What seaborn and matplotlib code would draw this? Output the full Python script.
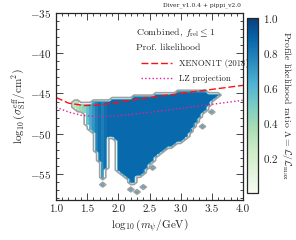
import numpy as np
import matplotlib
matplotlib.use("Agg")
import matplotlib.pyplot as plt
import matplotlib.ticker as mticker
from matplotlib.lines import Line2D
import seaborn as sns

# limit curves, log10(m/GeV) vs log10(sigma/cm^2)
xenon_x = [1.0, 1.2, 1.45, 1.7, 2.0, 2.5, 3.0, 3.5, 4.0]
xenon_y = [-45.5, -46.2, -46.5, -46.45, -46.1, -45.5, -45.0, -44.5, -44.0]
lz_x = [1.0, 1.2, 1.4, 1.6, 1.8, 2.0, 2.5, 3.0, 3.5, 4.0]
lz_y = [-46.7, -47.3, -47.7, -47.85, -47.85, -47.75, -47.35, -46.85, -46.35, -45.85]

# profile likelihood region, read column by column
col_x = [1.30, 1.35, 1.40, 1.45, 1.50, 1.55, 1.60, 1.65, 1.70, 1.75, 1.80, 1.85,
         1.90, 1.95, 2.00, 2.05, 2.10, 2.15, 2.20, 2.25, 2.30, 2.35, 2.40, 2.45,
         2.50, 2.55, 2.60, 2.65, 2.70, 2.75, 2.80, 2.85, 2.90, 2.95, 3.00, 3.05,
         3.10, 3.15, 3.20, 3.25, 3.30, 3.35, 3.40, 3.45, 3.50, 3.55, 3.60]
col_top = [-46.0, -46.0, -46.2, -46.3, -46.3, -46.3, -46.1, -46.0, -46.0, -46.1, -46.0, -45.9,
           -45.8, -45.8, -45.8, -45.7, -45.7, -45.6, -45.6, -45.5, -45.5, -45.4, -45.4, -45.3,
           -45.3, -45.3, -45.2, -45.2, -45.1, -45.1, -45.0, -45.0, -45.0, -44.9, -44.9, -44.9,
           -44.8, -44.8, -44.8, -44.8, -44.8, -44.8, -44.9, -45.0, -45.0, -45.1, -45.2]
col_bot = [-46.9, -47.1, -47.3, -47.5, -48.9, -49.7, -49.8, -52.3, -53.5, -55.6, -54.5, -50.6,
           -50.6, -50.8, -54.8, -55.0, -55.3, -55.6, -56.2, -56.2, -55.4, -55.2, -55.0, -54.3,
           -53.9, -53.4, -53.0, -52.6, -52.3, -52.0, -51.8, -51.6, -51.4, -51.2, -51.0, -50.7,
           -50.5, -50.0, -49.3, -48.6, -48.1, -47.6, -47.1, -46.6, -46.1, -45.7, -45.4]
col_lam = [0.30, 0.35, 0.40, 0.45, 0.55, 0.65, 0.72, 0.80, 0.85, 0.80, 0.85, 0.87,
           0.87, 0.87, 0.87, 0.87, 0.87, 0.87, 0.87, 0.87, 0.87, 0.87, 0.87, 0.87,
           0.87, 0.87, 0.87, 0.87, 0.87, 0.87, 0.87, 0.87, 0.87, 0.87, 0.87, 0.87,
           0.87, 0.87, 0.87, 0.87, 0.87, 0.87, 0.87, 0.87, 0.87, 0.87, 0.87]

# isolated points around the edge
isl_x = [2.20, 2.30, 2.40, 1.75, 3.35, 3.50, 2.55]
isl_y = [-57.0, -57.3, -56.7, -56.3, -49.0, -47.3, -54.3]
isl_lam = [0.7, 0.7, 0.7, 0.7, 0.7, 0.7, 0.7]

# grid
xc = np.arange(1.0, 4.001, 0.05)
yc = np.arange(-58.4, -34.9, 0.3)
lam = np.zeros((len(yc), len(xc)))
for x, t, b, l in zip(col_x, col_top, col_bot, col_lam):
    ix = np.argmin(np.abs(xc - x))
    lam[(yc >= b) & (yc <= t), ix] = l
for x, y, l in zip(isl_x, isl_y, isl_lam):
    lam[np.argmin(np.abs(yc - y)), np.argmin(np.abs(xc - x))] = l

sns.set_style("ticks")
plt.rcParams['font.family'] = 'serif'
plt.rcParams['font.serif'] = ['cmr10', 'DejaVu Serif']
plt.rcParams['mathtext.fontset'] = 'cm'
plt.rcParams['axes.formatter.use_mathtext'] = True
plt.rcParams['font.size'] = 8

fig = plt.figure(figsize=(2.96, 2.40), dpi=100)
ax = fig.add_axes([56/296, 1-200/240, 187/296, 187.3/240])
cax = fig.add_axes([247/296, 1-193/240, 11/296, 174.7/240])

mesh = ax.pcolormesh(xc, yc, np.ma.masked_where(lam <= 0, lam), cmap='GnBu',
                     vmin=0, vmax=1, shading='nearest')
ax.contour(xc, yc, lam, levels=[0.02], colors='#a0a0a0', linewidths=1.2)
ax.contour(xc, yc, lam, levels=[0.6], colors='#62bcd4', linewidths=0.6)

sns.lineplot(x=xenon_x, y=xenon_y, ax=ax, color='#ff1010', lw=1.0, linestyle=(0, (5, 2)))
sns.lineplot(x=lz_x, y=lz_y, ax=ax, color='#e0209a', lw=1.0, linestyle=':')

ax.set_xlim(1.0, 4.0)
ax.set_ylim(-58.2, -35)
ax.xaxis.set_major_locator(mticker.MultipleLocator(0.5))
ax.xaxis.set_minor_locator(mticker.MultipleLocator(0.1))
ax.yaxis.set_major_locator(mticker.MultipleLocator(5))
ax.yaxis.set_minor_locator(mticker.MultipleLocator(1))
ax.xaxis.set_major_formatter(mticker.FormatStrFormatter('%.1f'))
ax.tick_params(which='both', direction='in', top=True, right=True, width=0.6)
ax.tick_params(which='major', length=5)
ax.tick_params(which='minor', length=2.5)
for s in ax.spines.values():
    s.set_linewidth(0.9)
ax.set_xlabel(r'$\log_{10}\left(m_\psi/\mathrm{GeV}\right)$', labelpad=2)
ax.set_ylabel(r'$\log_{10}\left(\sigma_{\mathrm{SI}}^{\mathrm{eff}}/\mathrm{cm}^2\right)$', labelpad=1)

ax.text(0.428, 0.892, r'Combined, $f_{\mathrm{rel}} \leq 1$', transform=ax.transAxes,
        va='center', fontsize=7.0)
ax.text(0.428, 0.812, 'Prof. likelihood', transform=ax.transAxes, va='center', fontsize=7.0)
handles = [Line2D([], [], color='#ff1010', lw=1.0, linestyle=(0, (5, 2))),
           Line2D([], [], color='#e0209a', lw=1.0, linestyle=':')]
ax.legend(handles, ['XENON1T (2018)', 'LZ projection'], loc='upper left',
          bbox_to_anchor=(0.43, 0.775), frameon=False, handlelength=3.6,
          handletextpad=0.8, labelspacing=0.7, borderpad=0, fontsize=6.3)

fig.text(241/296, 1-5/240, 'Diver_v1.0.4 + pippi_v2.0', ha='right', va='center',
         fontsize=4.3, family='DejaVu Serif')

cb = fig.colorbar(mesh, cax=cax)
cb.set_ticks([0.2, 0.4, 0.6, 0.8, 1.0])
cb.ax.yaxis.set_minor_locator(mticker.MultipleLocator(0.05))
cb.ax.tick_params(which='both', direction='in', width=0.6)
cb.ax.tick_params(which='major', length=4)
cb.ax.tick_params(which='minor', length=2)
cb.outline.set_linewidth(0.9)
cb.set_label(r'Profile likelihood ratio $\Lambda = \mathcal{L}/\mathcal{L}_{\mathrm{max}}$',
             rotation=270, labelpad=10, fontsize=7)

fig.savefig('out.png', dpi=100)
